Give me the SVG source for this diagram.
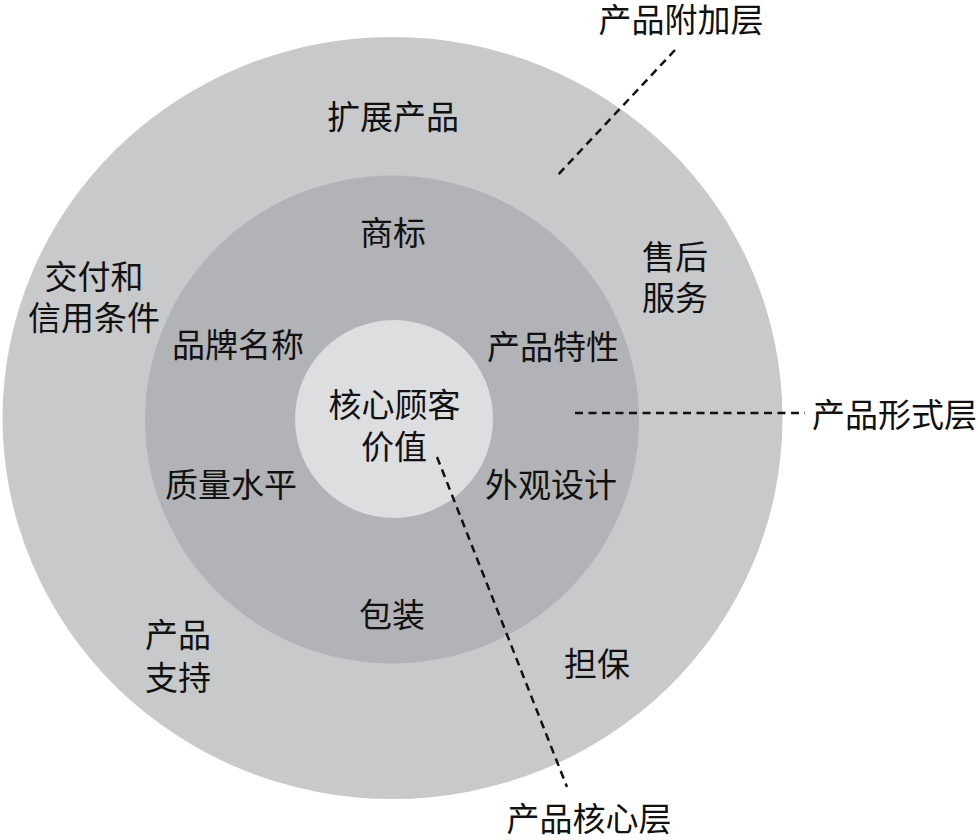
<svg xmlns="http://www.w3.org/2000/svg" width="978" height="840" viewBox="0 0 978 840">
<style>
text{font-family:"Noto Sans CJK SC","Noto Sans",sans-serif;font-size:33px;fill:#111;text-anchor:middle}
.l{text-anchor:start}
.d{fill:none;stroke:#111;stroke-width:2.5;stroke-dasharray:8 5.5}
</style>
<rect width="978" height="840" fill="#fff"/>
<g id="outer-layer">
<ellipse cx="392.5" cy="418" rx="390" ry="381" fill="#c8c9cb"/>
</g>
<g id="form-layer">
<ellipse cx="392" cy="419.5" rx="247" ry="244" fill="#b2b3b6"/>
</g>
<g id="core-layer">
<ellipse cx="394" cy="419" rx="99" ry="99" fill="#dddee0"/>
</g>
<g id="connectors">
<line class="d" x1="675" y1="50" x2="555" y2="178"/>
<line class="d" x1="575" y1="413" x2="805" y2="413"/>
<line class="d" x1="437" y1="457" x2="567" y2="787"/>
</g>
<g id="labels-outer">
<text x="393" y="129">扩展产品</text>
<text x="94" y="289">交付和</text>
<text x="94" y="330">信用条件</text>
<text x="675" y="269">售后</text>
<text x="675" y="310">服务</text>
<text x="178" y="647">产品</text>
<text x="178" y="690">支持</text>
<text x="597" y="676">担保</text>
</g>
<g id="labels-form">
<text x="393" y="245">商标</text>
<text x="238" y="357">品牌名称</text>
<text x="553" y="359">产品特性</text>
<text x="231" y="497">质量水平</text>
<text x="551" y="497">外观设计</text>
<text x="392" y="627">包装</text>
</g>
<g id="labels-core">
<text x="394.5" y="417">核心顾客</text>
<text x="394" y="459">价值</text>
</g>
<g id="callouts">
<text x="681" y="32">产品附加层</text>
<text class="l" x="812" y="427">产品形式层</text>
<text x="589" y="831">产品核心层</text>
</g>
</svg>
